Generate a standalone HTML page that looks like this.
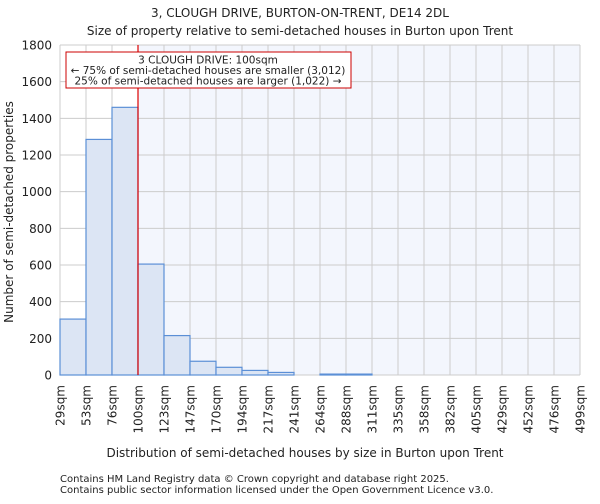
<!DOCTYPE html>
<html><head><meta charset="utf-8"><style>
body{margin:0;background:#fff;font-family:"DejaVu Sans","Liberation Sans",sans-serif}
svg text{font-family:"DejaVu Sans","Liberation Sans",sans-serif;fill:#222}
</style></head><body>
<svg id="c" width="600" height="500"></svg>
<script>
const categories=["29sqm","53sqm","76sqm","100sqm","123sqm","147sqm","170sqm","194sqm","217sqm","241sqm","264sqm","288sqm","311sqm","335sqm","358sqm","382sqm","405sqm","429sqm","452sqm","476sqm","499sqm"];
const counts=[305,1285,1460,605,215,75,42,25,14,0,5,5,0,0,0,0,0,0,0,0];
const yTicks=[0,200,400,600,800,1000,1200,1400,1600,1800];
const markerBin=3;
const L=60,R=580,T=45,B=375,yMax=1800;
const bw=(R-L)/counts.length;
const x=i=>L+i*bw, y=v=>B-(v/yMax)*(B-T);
const s=document.getElementById('c');const NS="http://www.w3.org/2000/svg";
function mk(t,a,txt){const e=document.createElementNS(NS,t);for(const k in a)e.setAttribute(k,a[k]);if(txt!=null)e.textContent=txt;s.appendChild(e);return e;}
let e;
e=mk('rect',{x:x(markerBin),y:T,width:R-x(markerBin),height:B-T,fill:'#f3f6fd'});


yTicks.forEach(v=>{e=mk('line',{x1:L,x2:R,y1:y(v),y2:y(v),stroke:'#ccc'});


e=mk('text',{x:L-8,y:y(v)+4.5,'text-anchor':'end','font-size':12},v);

});
categories.forEach((c,i)=>{e=mk('line',{x1:x(i),x2:x(i),y1:T,y2:B,stroke:'#ccc'});


e=mk('text',{transform:`translate(${x(i)+4.5},${B+10}) rotate(-90)`,'text-anchor':'end','font-size':12},c);

});
counts.forEach((v,i)=>{if(v<=0)return;e=mk('rect',{x:x(i),y:y(v),width:bw,height:B-y(v),fill:'#dce5f4',stroke:'#5b8fd6','stroke-width':1.2});

});
e=mk('line',{x1:x(markerBin),x2:x(markerBin),y1:T,y2:B,stroke:'#d00','stroke-width':1.2});


e=mk('rect',{x:66,y:52,width:285,height:36,fill:'#fff',stroke:'#c00'});


[["3 CLOUGH DRIVE: 100sqm",63.5],["← 75% of semi-detached houses are smaller (3,012)",74],["25% of semi-detached houses are larger (1,022) →",84.5]].forEach(([t,yy])=>{e=mk('text',{x:208,y:yy,'text-anchor':'middle','font-size':10.5},t);

});
e=mk('text',{x:300,y:17,'text-anchor':'middle','font-size':12},"3, CLOUGH DRIVE, BURTON-ON-TRENT, DE14 2DL");


e=mk('text',{x:300,y:35,'text-anchor':'middle','font-size':12},"Size of property relative to semi-detached houses in Burton upon Trent");


e=mk('text',{transform:'translate(13,212) rotate(-90)','text-anchor':'middle','font-size':12},"Number of semi-detached properties");


e=mk('text',{x:305,y:457,'text-anchor':'middle','font-size':12},"Distribution of semi-detached houses by size in Burton upon Trent");


e=mk('text',{x:60,y:482,'font-size':10},"Contains HM Land Registry data © Crown copyright and database right 2025.");


e=mk('text',{x:60,y:493,'font-size':10},"Contains public sector information licensed under the Open Government Licence v3.0.");


</script></body></html>
